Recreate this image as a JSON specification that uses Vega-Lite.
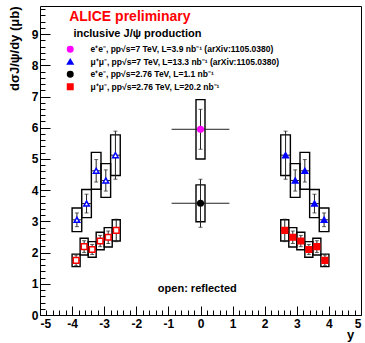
{
  "$schema": "https://vega.github.io/schema/vega-lite/v6.json",
  "width": 321,
  "height": 309,
  "autosize": "none",
  "padding": {"left": 40, "top": 6, "right": 4, "bottom": 28},
  "background": "white",
  "config": {
    "view": {"stroke": "black", "strokeWidth": 1},
    "axis": {
      "domain": false, "grid": false,
      "labelFont": "Liberation Sans", "labelFontWeight": "bold", "labelFontSize": 12, "labelColor": "black",
      "tickColor": "black", "tickWidth": 1,
      "titleFont": "Liberation Sans", "titleFontWeight": "bold", "titleFontSize": 13, "titleColor": "black"
    },
    "legend": {
      "labelFont": "Liberation Sans", "labelFontWeight": "bold", "labelFontSize": 8.5, "labelColor": "black", "labelLimit": 400
    }
  },
  "data": {
    "values": [
      {"s": "e⁺e⁻, pp√s=7 TeV, L=3.9 nb⁻¹ (arXiv:1105.0380)", "side": "C", "x": 0, "y": 5.95, "xlo": -0.9, "xhi": 0.9, "slo": 5.31, "shi": 6.59, "blo": 5.0, "bhi": 6.9, "bxlo": -0.14, "bxhi": 0.14},
      {"s": "e⁺e⁻, pp√s=2.76 TeV, L=1.1 nb⁻¹", "side": "C", "x": 0, "y": 3.58, "xlo": -0.9, "xhi": 0.9, "slo": 2.81, "shi": 4.35, "blo": 2.99, "bhi": 4.17, "bxlo": -0.14, "bxhi": 0.14},
      {"s": "μ⁺μ⁻, pp√s=7 TeV, L=13.3 nb⁻¹ (arXiv:1105.0380)", "side": "R", "x": 2.65, "y": 5.12, "xlo": 2.5, "xhi": 2.8, "slo": 4.35, "shi": 5.89, "blo": 4.47, "bhi": 5.77, "bxlo": 2.5, "bxhi": 2.8},
      {"s": "μ⁺μ⁻, pp√s=7 TeV, L=13.3 nb⁻¹ (arXiv:1105.0380)", "side": "R", "x": 2.95, "y": 4.31, "xlo": 2.8, "xhi": 3.1, "slo": 3.97, "shi": 4.65, "blo": 3.77, "bhi": 4.85, "bxlo": 2.8, "bxhi": 3.1},
      {"s": "μ⁺μ⁻, pp√s=7 TeV, L=13.3 nb⁻¹ (arXiv:1105.0380)", "side": "R", "x": 3.25, "y": 4.62, "xlo": 3.1, "xhi": 3.4, "slo": 4.26, "shi": 4.98, "blo": 4.03, "bhi": 5.21, "bxlo": 3.1, "bxhi": 3.4},
      {"s": "μ⁺μ⁻, pp√s=7 TeV, L=13.3 nb⁻¹ (arXiv:1105.0380)", "side": "R", "x": 3.55, "y": 3.57, "xlo": 3.4, "xhi": 3.7, "slo": 3.27, "shi": 3.87, "blo": 3.12, "bhi": 4.02, "bxlo": 3.4, "bxhi": 3.7},
      {"s": "μ⁺μ⁻, pp√s=7 TeV, L=13.3 nb⁻¹ (arXiv:1105.0380)", "side": "R", "x": 3.85, "y": 3.05, "xlo": 3.7, "xhi": 4.0, "slo": 2.83, "shi": 3.27, "blo": 2.67, "bhi": 3.43, "bxlo": 3.7, "bxhi": 4.0},
      {"s": "μ⁺μ⁻, pp√s=7 TeV, L=13.3 nb⁻¹ (arXiv:1105.0380)", "side": "L", "x": -2.65, "y": 5.12, "xlo": -2.8, "xhi": -2.5, "slo": 4.35, "shi": 5.89, "blo": 4.47, "bhi": 5.77, "bxlo": -2.8, "bxhi": -2.5},
      {"s": "μ⁺μ⁻, pp√s=7 TeV, L=13.3 nb⁻¹ (arXiv:1105.0380)", "side": "L", "x": -2.95, "y": 4.31, "xlo": -3.1, "xhi": -2.8, "slo": 3.97, "shi": 4.65, "blo": 3.77, "bhi": 4.85, "bxlo": -3.1, "bxhi": -2.8},
      {"s": "μ⁺μ⁻, pp√s=7 TeV, L=13.3 nb⁻¹ (arXiv:1105.0380)", "side": "L", "x": -3.25, "y": 4.62, "xlo": -3.4, "xhi": -3.1, "slo": 4.26, "shi": 4.98, "blo": 4.03, "bhi": 5.21, "bxlo": -3.4, "bxhi": -3.1},
      {"s": "μ⁺μ⁻, pp√s=7 TeV, L=13.3 nb⁻¹ (arXiv:1105.0380)", "side": "L", "x": -3.55, "y": 3.57, "xlo": -3.7, "xhi": -3.4, "slo": 3.27, "shi": 3.87, "blo": 3.12, "bhi": 4.02, "bxlo": -3.7, "bxhi": -3.4},
      {"s": "μ⁺μ⁻, pp√s=7 TeV, L=13.3 nb⁻¹ (arXiv:1105.0380)", "side": "L", "x": -3.85, "y": 3.05, "xlo": -4.0, "xhi": -3.7, "slo": 2.83, "shi": 3.27, "blo": 2.67, "bhi": 3.43, "bxlo": -4.0, "bxhi": -3.7},
      {"s": "μ⁺μ⁻, pp√s=2.76 TeV, L=20.2 nb⁻¹", "side": "R", "x": 2.625, "y": 2.71, "xlo": 2.5, "xhi": 2.75, "slo": 2.35, "shi": 3.07, "blo": 2.37, "bhi": 3.05, "bxlo": 2.5, "bxhi": 2.75},
      {"s": "μ⁺μ⁻, pp√s=2.76 TeV, L=20.2 nb⁻¹", "side": "R", "x": 2.875, "y": 2.49, "xlo": 2.75, "xhi": 3.0, "slo": 2.29, "shi": 2.69, "blo": 2.18, "bhi": 2.8, "bxlo": 2.75, "bxhi": 3.0},
      {"s": "μ⁺μ⁻, pp√s=2.76 TeV, L=20.2 nb⁻¹", "side": "R", "x": 3.125, "y": 2.37, "xlo": 3.0, "xhi": 3.25, "slo": 2.19, "shi": 2.55, "blo": 2.09, "bhi": 2.65, "bxlo": 3.0, "bxhi": 3.25},
      {"s": "μ⁺μ⁻, pp√s=2.76 TeV, L=20.2 nb⁻¹", "side": "R", "x": 3.375, "y": 2.1, "xlo": 3.25, "xhi": 3.5, "slo": 1.94, "shi": 2.26, "blo": 1.85, "bhi": 2.35, "bxlo": 3.25, "bxhi": 3.5},
      {"s": "μ⁺μ⁻, pp√s=2.76 TeV, L=20.2 nb⁻¹", "side": "R", "x": 3.625, "y": 2.19, "xlo": 3.5, "xhi": 3.75, "slo": 2.0, "shi": 2.38, "blo": 1.92, "bhi": 2.46, "bxlo": 3.5, "bxhi": 3.75},
      {"s": "μ⁺μ⁻, pp√s=2.76 TeV, L=20.2 nb⁻¹", "side": "R", "x": 3.875, "y": 1.75, "xlo": 3.75, "xhi": 4.0, "slo": 1.58, "shi": 1.92, "blo": 1.55, "bhi": 1.95, "bxlo": 3.75, "bxhi": 4.0},
      {"s": "μ⁺μ⁻, pp√s=2.76 TeV, L=20.2 nb⁻¹", "side": "L", "x": -2.625, "y": 2.71, "xlo": -2.75, "xhi": -2.5, "slo": 2.35, "shi": 3.07, "blo": 2.37, "bhi": 3.05, "bxlo": -2.75, "bxhi": -2.5},
      {"s": "μ⁺μ⁻, pp√s=2.76 TeV, L=20.2 nb⁻¹", "side": "L", "x": -2.875, "y": 2.49, "xlo": -3.0, "xhi": -2.75, "slo": 2.29, "shi": 2.69, "blo": 2.18, "bhi": 2.8, "bxlo": -3.0, "bxhi": -2.75},
      {"s": "μ⁺μ⁻, pp√s=2.76 TeV, L=20.2 nb⁻¹", "side": "L", "x": -3.125, "y": 2.37, "xlo": -3.25, "xhi": -3.0, "slo": 2.19, "shi": 2.55, "blo": 2.09, "bhi": 2.65, "bxlo": -3.25, "bxhi": -3.0},
      {"s": "μ⁺μ⁻, pp√s=2.76 TeV, L=20.2 nb⁻¹", "side": "L", "x": -3.375, "y": 2.1, "xlo": -3.5, "xhi": -3.25, "slo": 1.94, "shi": 2.26, "blo": 1.85, "bhi": 2.35, "bxlo": -3.5, "bxhi": -3.25},
      {"s": "μ⁺μ⁻, pp√s=2.76 TeV, L=20.2 nb⁻¹", "side": "L", "x": -3.625, "y": 2.19, "xlo": -3.75, "xhi": -3.5, "slo": 2.0, "shi": 2.38, "blo": 1.92, "bhi": 2.46, "bxlo": -3.75, "bxhi": -3.5},
      {"s": "μ⁺μ⁻, pp√s=2.76 TeV, L=20.2 nb⁻¹", "side": "L", "x": -3.875, "y": 1.75, "xlo": -4.0, "xhi": -3.75, "slo": 1.58, "shi": 1.92, "blo": 1.55, "bhi": 1.95, "bxlo": -4.0, "bxhi": -3.75}
    ]
  },
  "resolve": {"axis": {"x": "independent", "y": "independent"}},
  "layer": [
    {
      "mark": {"type": "rect", "fillOpacity": 0, "stroke": "black", "strokeWidth": 1.4},
      "encoding": {
        "x": {"field": "bxlo", "type": "quantitative", "scale": {"domain": [-5, 5], "nice": false, "zero": false},
          "axis": {"orient": "bottom", "values": [-5, -4, -3, -2, -1, 0, 1, 2, 3, 4, 5], "ticks": false, "labelPadding": 3, "labelBaseline": "top",
            "labelExpr": "'' + datum.value", "title": "y", "titleFontSize": 13, "titleX": 310, "titleY": 23, "titleAlign": "center", "titleBaseline": "alphabetic", "titleAnchor": null}},
        "x2": {"field": "bxhi"},
        "y": {"field": "blo", "type": "quantitative", "scale": {"domain": [0, 9.9], "nice": false, "zero": false},
          "axis": {"orient": "left", "values": [0, 1, 2, 3, 4, 5, 6, 7, 8, 9], "ticks": false, "labelPadding": 2,
            "title": "dσJ/ψ/dy (μb)", "titleAngle": 270, "titleX": -26, "titleY": 0, "titleAlign": "right", "titleBaseline": "middle", "titleAnchor": null}},
        "y2": {"field": "bhi"}
      }
    },
    {
      "mark": {"type": "rule", "color": "#222", "strokeWidth": 1},
      "encoding": {
        "x": {"field": "xlo", "type": "quantitative", "scale": {"domain": [-5, 5], "nice": false, "zero": false}, "axis": null},
        "x2": {"field": "xhi"},
        "y": {"field": "y", "type": "quantitative", "scale": {"domain": [0, 9.9], "nice": false, "zero": false}, "axis": null}
      }
    },
    {
      "mark": {"type": "rule", "color": "#222", "strokeWidth": 1},
      "encoding": {
        "x": {"field": "x", "type": "quantitative", "scale": {"domain": [-5, 5], "nice": false, "zero": false}, "axis": null},
        "y": {"field": "slo", "type": "quantitative", "scale": {"domain": [0, 9.9], "nice": false, "zero": false}, "axis": null},
        "y2": {"field": "shi"}
      }
    },
    {
      "mark": {"type": "tick", "orient": "horizontal", "color": "#222", "size": 4, "thickness": 1},
      "encoding": {
        "x": {"field": "x", "type": "quantitative", "scale": {"domain": [-5, 5], "nice": false, "zero": false}, "axis": null},
        "y": {"field": "slo", "type": "quantitative", "scale": {"domain": [0, 9.9], "nice": false, "zero": false}, "axis": null}
      }
    },
    {
      "mark": {"type": "tick", "orient": "horizontal", "color": "#222", "size": 4, "thickness": 1},
      "encoding": {
        "x": {"field": "x", "type": "quantitative", "scale": {"domain": [-5, 5], "nice": false, "zero": false}, "axis": null},
        "y": {"field": "shi", "type": "quantitative", "scale": {"domain": [0, 9.9], "nice": false, "zero": false}, "axis": null}
      }
    },
    {
      "mark": {"type": "point", "filled": true, "size": 32, "strokeWidth": 1.5, "opacity": 1},
      "encoding": {
        "x": {"field": "x", "type": "quantitative", "scale": {"domain": [-5, 5], "nice": false, "zero": false}, "axis": null},
        "y": {"field": "y", "type": "quantitative", "scale": {"domain": [0, 9.9], "nice": false, "zero": false}, "axis": null},
        "shape": {"field": "s", "type": "nominal",
          "scale": {"domain": ["e⁺e⁻, pp√s=7 TeV, L=3.9 nb⁻¹ (arXiv:1105.0380)", "μ⁺μ⁻, pp√s=7 TeV, L=13.3 nb⁻¹ (arXiv:1105.0380)", "e⁺e⁻, pp√s=2.76 TeV, L=1.1 nb⁻¹", "μ⁺μ⁻, pp√s=2.76 TeV, L=20.2 nb⁻¹"],
            "range": ["circle", "triangle-up", "circle", "square"]},
          "legend": {"title": null, "orient": "none", "legendX": 26, "legendY": 39, "padding": 0, "symbolSize": 30, "labelOffset": 16, "rowPadding": 0.5}},
        "fill": {"condition": {"test": "datum.side === 'L'", "value": "white"}, "field": "s", "type": "nominal",
          "scale": {"domain": ["e⁺e⁻, pp√s=7 TeV, L=3.9 nb⁻¹ (arXiv:1105.0380)", "μ⁺μ⁻, pp√s=7 TeV, L=13.3 nb⁻¹ (arXiv:1105.0380)", "e⁺e⁻, pp√s=2.76 TeV, L=1.1 nb⁻¹", "μ⁺μ⁻, pp√s=2.76 TeV, L=20.2 nb⁻¹"],
            "range": ["#ff00ff", "#0000ff", "#000000", "#ff0000"]},
          "legend": {"title": null, "orient": "none", "legendX": 26, "legendY": 39, "padding": 0, "symbolSize": 30, "labelOffset": 16, "rowPadding": 0.5}},
        "stroke": {"field": "s", "type": "nominal",
          "scale": {"domain": ["e⁺e⁻, pp√s=7 TeV, L=3.9 nb⁻¹ (arXiv:1105.0380)", "μ⁺μ⁻, pp√s=7 TeV, L=13.3 nb⁻¹ (arXiv:1105.0380)", "e⁺e⁻, pp√s=2.76 TeV, L=1.1 nb⁻¹", "μ⁺μ⁻, pp√s=2.76 TeV, L=20.2 nb⁻¹"],
            "range": ["#ff00ff", "#0000ff", "#000000", "#ff0000"]},
          "legend": {"title": null, "orient": "none", "legendX": 26, "legendY": 39, "padding": 0, "symbolSize": 30, "labelOffset": 16, "rowPadding": 0.5}}
      }
    },
    {
      "data": {"values": [{"t": "ALICE preliminary"}]},
      "mark": {"type": "text", "font": "Liberation Sans", "fontWeight": "bold", "fontSize": 14, "color": "#ff0000", "align": "left", "baseline": "alphabetic"},
      "encoding": {
        "x": {"datum": -4.09, "type": "quantitative", "scale": {"domain": [-5, 5], "nice": false, "zero": false}, "axis": null},
        "y": {"datum": 9.42, "type": "quantitative", "scale": {"domain": [0, 9.9], "nice": false, "zero": false}, "axis": null},
        "text": {"field": "t"}
      }
    },
    {
      "data": {"values": [{"t": "inclusive J/ψ production"}]},
      "mark": {"type": "text", "font": "Liberation Sans", "fontWeight": "bold", "fontSize": 11, "color": "black", "align": "left", "baseline": "alphabetic"},
      "encoding": {
        "x": {"datum": -3.96, "type": "quantitative", "scale": {"domain": [-5, 5], "nice": false, "zero": false}, "axis": null},
        "y": {"datum": 8.92, "type": "quantitative", "scale": {"domain": [0, 9.9], "nice": false, "zero": false}, "axis": null},
        "text": {"field": "t"}
      }
    },
    {
      "data": {"values": [{"t": "open: reflected"}]},
      "mark": {"type": "text", "font": "Liberation Sans", "fontWeight": "bold", "fontSize": 11, "color": "black", "align": "center", "baseline": "alphabetic"},
      "encoding": {
        "x": {"datum": -0.1, "type": "quantitative", "scale": {"domain": [-5, 5], "nice": false, "zero": false}, "axis": null},
        "y": {"datum": 0.74, "type": "quantitative", "scale": {"domain": [0, 9.9], "nice": false, "zero": false}, "axis": null},
        "text": {"field": "t"}
      }
    },
    {
      "mark": {"type": "point", "opacity": 0},
      "encoding": {
        "x": {"field": "x", "type": "quantitative", "scale": {"domain": [-5, 5], "nice": false, "zero": false},
          "axis": {"orient": "bottom", "values": [-5, -4, -3, -2, -1, 0, 1, 2, 3, 4, 5], "labels": false, "tickSize": -9, "title": null}},
        "y": {"field": "y", "type": "quantitative", "scale": {"domain": [0, 9.9], "nice": false, "zero": false},
          "axis": {"orient": "left", "values": [0, 1, 2, 3, 4, 5, 6, 7, 8, 9], "labels": false, "tickSize": -10, "title": null}}
      }
    },
    {
      "mark": {"type": "point", "opacity": 0},
      "encoding": {
        "x": {"field": "x", "type": "quantitative", "scale": {"domain": [-5, 5], "nice": false, "zero": false},
          "axis": {"orient": "bottom", "values": [-4.8, -4.6, -4.4, -4.2, -3.8, -3.6, -3.4, -3.2, -2.8, -2.6, -2.4, -2.2, -1.8, -1.6, -1.4, -1.2, -0.8, -0.6, -0.4, -0.2, 0.2, 0.4, 0.6, 0.8, 1.2, 1.4, 1.6, 1.8, 2.2, 2.4, 2.6, 2.8, 3.2, 3.4, 3.6, 3.8, 4.2, 4.4, 4.6, 4.8], "labels": false, "tickSize": -5, "title": null}},
        "y": {"field": "y", "type": "quantitative", "scale": {"domain": [0, 9.9], "nice": false, "zero": false},
          "axis": {"orient": "left", "values": [0.2, 0.4, 0.6, 0.8, 1.2, 1.4, 1.6, 1.8, 2.2, 2.4, 2.6, 2.8, 3.2, 3.4, 3.6, 3.8, 4.2, 4.4, 4.6, 4.8, 5.2, 5.4, 5.6, 5.8, 6.2, 6.4, 6.6, 6.8, 7.2, 7.4, 7.6, 7.8, 8.2, 8.4, 8.6, 8.8, 9.2, 9.4, 9.6, 9.8], "labels": false, "tickSize": -5, "title": null}}
      }
    }
  ]
}
